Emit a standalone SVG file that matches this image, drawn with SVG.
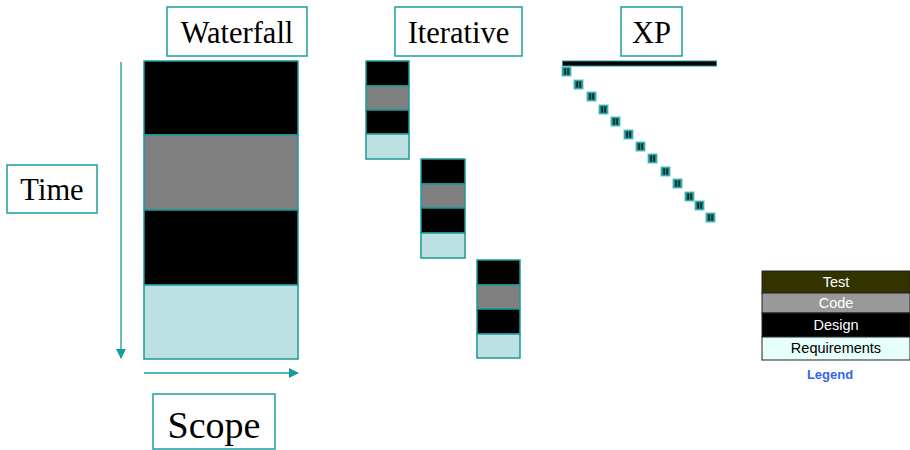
<svg xmlns="http://www.w3.org/2000/svg" width="910" height="450" viewBox="0 0 910 450">
<style>
.lbl{fill:#fff;stroke:#1a9e9e;stroke-width:1.5}
.t{font-family:"Liberation Serif","Times New Roman",serif;fill:#000}
.seg{stroke:#1a9a9a;stroke-width:1.5}
.k{fill:#000}.g{fill:#808080}.b{fill:#bde0e3}
.lg{font-family:"Liberation Sans",Arial,sans-serif;font-size:14.5px;text-anchor:middle}
.ax{stroke:#1a9a9a;stroke-width:1.3;fill:none}
</style>
<defs>
<marker id="ah" markerWidth="10" markerHeight="10" refX="9" refY="5" orient="auto" markerUnits="userSpaceOnUse">
<path d="M0,0 L10,5 L0,10 Z" fill="#1a9a9a"/>
</marker>
<g id="xs">
<rect x="0" y="0" width="9" height="9" fill="#1a8a8a" stroke="#5cc8c8" stroke-width="1"/>
<rect x="2.5" y="1.5" width="1.2" height="6" fill="#000"/>
<rect x="5.5" y="1.5" width="1.2" height="6" fill="#000"/>
</g>
</defs>
<rect width="910" height="450" fill="#fff"/>

<g id="waterfall-label"><rect class="lbl" x="167" y="7" width="140" height="49"/><text class="t" x="237" y="43" font-size="30.5" text-anchor="middle">Waterfall</text></g>
<g id="iterative-label"><rect class="lbl" x="395" y="7" width="127" height="49"/><text class="t" x="458.5" y="43" font-size="30.5" text-anchor="middle">Iterative</text></g>
<g id="xp-label"><rect class="lbl" x="621" y="7" width="61" height="49"/><text class="t" x="651.5" y="43" font-size="30.5" text-anchor="middle">XP</text></g>
<g id="time-label"><rect class="lbl" x="7" y="165" width="90" height="48"/><text class="t" x="52" y="200" font-size="30.5" text-anchor="middle">Time</text></g>
<g id="scope-label"><rect class="lbl" x="153" y="394" width="122" height="55"/><text class="t" x="214" y="438" font-size="38" text-anchor="middle">Scope</text></g>

<g id="waterfall">
<rect class="seg k" x="144" y="61" width="154" height="74"/>
<rect class="seg g" x="144" y="135" width="154" height="75"/>
<rect class="seg k" x="144" y="210" width="154" height="75"/>
<rect class="seg b" x="144" y="285" width="154" height="74"/>
</g>

<g id="iter1">
<rect class="seg k" x="366" y="61" width="43" height="25"/>
<rect class="seg g" x="366" y="86" width="43" height="24"/>
<rect class="seg k" x="366" y="110" width="43" height="24"/>
<rect class="seg b" x="366" y="134" width="43" height="25"/>
</g>
<g id="iter2">
<rect class="seg k" x="421" y="159" width="44" height="25"/>
<rect class="seg g" x="421" y="184" width="44" height="24"/>
<rect class="seg k" x="421" y="208" width="44" height="25"/>
<rect class="seg b" x="421" y="233" width="44" height="25"/>
</g>
<g id="iter3">
<rect class="seg k" x="477" y="260" width="43" height="25"/>
<rect class="seg g" x="477" y="285" width="43" height="24"/>
<rect class="seg k" x="477" y="309" width="43" height="25"/>
<rect class="seg b" x="477" y="334" width="43" height="24"/>
</g>

<g id="xp">
<rect x="562.5" y="61" width="154" height="5" fill="#000" stroke="#1a9a9a" stroke-width="1"/>
<use href="#xs" x="562" y="67"/>
<use href="#xs" x="574" y="80"/>
<use href="#xs" x="587" y="92"/>
<use href="#xs" x="599" y="105"/>
<use href="#xs" x="611" y="117"/>
<use href="#xs" x="624" y="130"/>
<use href="#xs" x="636" y="142"/>
<use href="#xs" x="648" y="154"/>
<use href="#xs" x="661" y="167"/>
<use href="#xs" x="673" y="179"/>
<use href="#xs" x="685" y="192"/>
<use href="#xs" x="695" y="201"/>
<use href="#xs" x="706" y="213"/>
</g>

<g id="legend">
<rect x="762" y="271" width="148" height="22" fill="#333300" stroke="#222" stroke-width="1"/>
<rect x="762" y="293" width="148" height="20" fill="#999" stroke="#222" stroke-width="1"/>
<rect x="762" y="313" width="148" height="24" fill="#000" stroke="#222" stroke-width="1"/>
<rect x="762" y="337" width="148" height="23" fill="#e6fffb" stroke="#222" stroke-width="1"/>
<text class="lg" x="836" y="287" fill="#fff">Test</text>
<text class="lg" x="836" y="308" fill="#fff">Code</text>
<text class="lg" x="836" y="330" fill="#fff">Design</text>
<text class="lg" x="836" y="353" fill="#000">Requirements</text>
<text x="830" y="379" font-family="Liberation Sans,Arial,sans-serif" font-size="13" font-weight="bold" fill="#3366ee" text-anchor="middle">Legend</text>
</g>

<g id="connectors">
<line class="ax" x1="121" y1="62" x2="121" y2="358" marker-end="url(#ah)" stroke="#5fc0c0"/>
<line class="ax" x1="144" y1="373" x2="298" y2="373" marker-end="url(#ah)"/>
</g>
</svg>
